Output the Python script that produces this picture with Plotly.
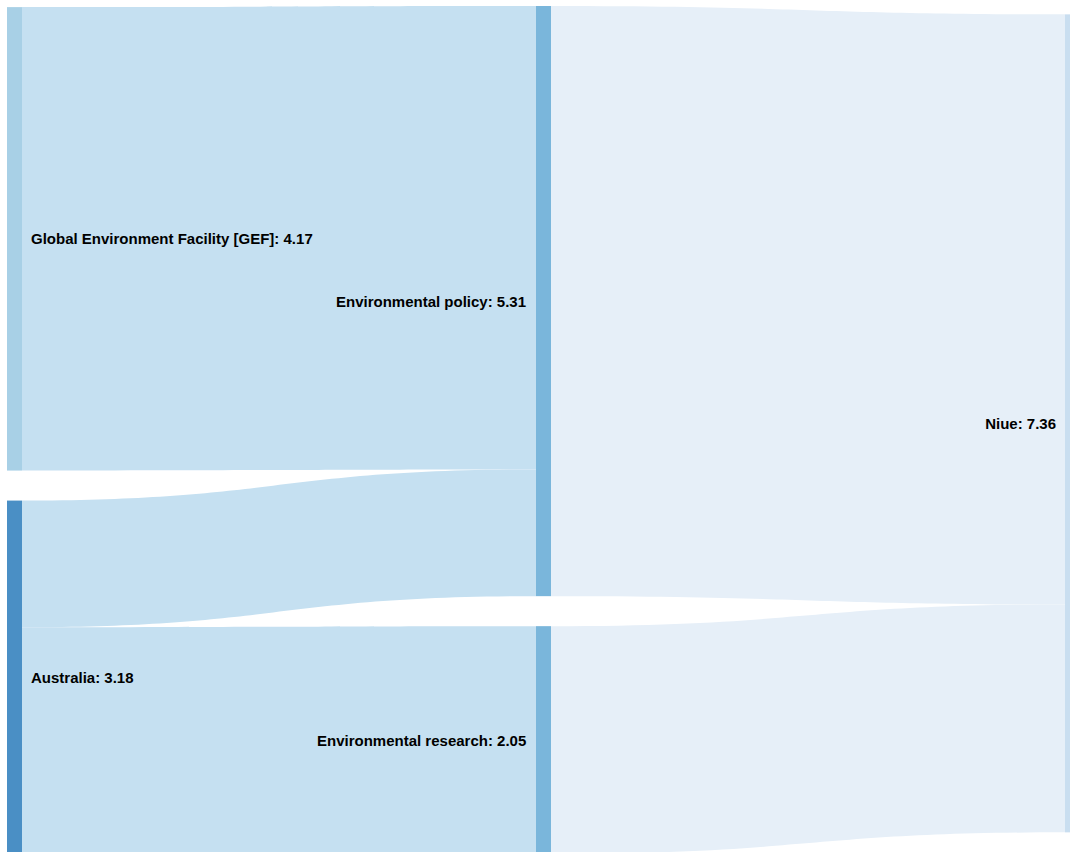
import plotly.graph_objects as go

node_names = ["Global Environment Facility [GEF]", "Australia", "Environmental policy",
              "Environmental research", "Niue"]
node_totals = [4.17, 3.18, 5.31, 2.05, 7.36]
node_colors = ["#a8d0e6", "#4a8fc5", "#7ab6db", "#7ab6db", "#c9def0"]

link_source = [0, 1, 1, 2, 3]
link_target = [2, 2, 3, 4, 4]
link_value = [4.17, 1.14, 2.04, 5.31, 2.05]
link_colors = ["#c5e0f1", "#c5e0f1", "#c5e0f1", "#e6eff8", "#e6eff8"]

labels = [f"{n}: {v:.2f}" for n, v in zip(node_names, node_totals)]
middle = [2, 3]  # middle-column nodes: labels drawn on their left side

W, H = 1080, 854
ML, MT = 7, 6
w, h = W - ML, H - MT
pad, thick, gap = 30, 15, 9
font = dict(family="Arial", size=15, color="black", weight="bold")

node_labels = [("" if i in middle else lab) for i, lab in enumerate(labels)]

fig = go.Figure(go.Sankey(
    arrangement="snap",
    node=dict(label=node_labels, color=node_colors, pad=pad, thickness=thick,
              line=dict(width=2 * (gap - 3), color="rgba(255,255,255,0)")),
    link=dict(source=link_source, target=link_target, value=link_value,
              color=link_colors),
    textfont=dict(font, shadow="none"),
))

# vertical scale used by the sankey layout (tallest column of the middle layer)
mid_total = node_totals[2] + node_totals[3]
ky = (h - pad) / mid_total
centers = [node_totals[2] * ky / 2,
           node_totals[2] * ky + pad + node_totals[3] * ky / 2]
x_lab = ((w - thick) / 2 - gap) / w
for i, cy in zip(middle, centers):
    fig.add_annotation(text=labels[i], xref="paper", yref="paper",
                       x=x_lab, y=1 - cy / h, xanchor="right", yanchor="middle",
                       showarrow=False, font=font, borderpad=0)

fig.update_layout(width=W, height=H, margin=dict(l=ML, r=0, t=MT, b=0),
                  paper_bgcolor="white")
fig.write_html("out.html", config={"displayModeBar": False}, post_script=(
    "document.documentElement.style.overflow='hidden';"
    "document.body.style.overflow='hidden';"
    "document.body.style.margin='0';"))
